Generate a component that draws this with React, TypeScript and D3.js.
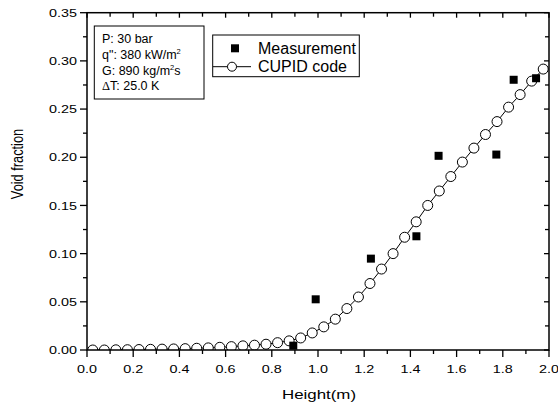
import React from "react";
import * as d3 from "d3";

const measX = [0.893, 0.99, 1.229, 1.426, 1.522, 1.772, 1.847, 1.944];
const measY = [0.0045, 0.0526, 0.0948, 0.118, 0.2015, 0.2028, 0.2804, 0.282];

const cupidX = [
  0.025, 0.075, 0.125, 0.175, 0.225, 0.275, 0.325, 0.375, 0.425, 0.475,
  0.525, 0.575, 0.625, 0.675, 0.725, 0.775, 0.825, 0.875, 0.925, 0.975,
  1.025, 1.075, 1.125, 1.175, 1.225, 1.275, 1.325, 1.375, 1.425, 1.475,
  1.525, 1.575, 1.625, 1.675, 1.725, 1.775, 1.825, 1.875, 1.925, 1.975,
];
const cupidY = [
  0.0, 0.0, 0.0002, 0.0003, 0.0005, 0.0007, 0.0009, 0.0011, 0.0014, 0.0018,
  0.0022, 0.0028, 0.0035, 0.0043, 0.005, 0.006, 0.0076, 0.0095, 0.0125, 0.0177,
  0.024, 0.032, 0.043, 0.055, 0.069, 0.084, 0.1, 0.117, 0.133, 0.15,
  0.165, 0.18, 0.195, 0.2095, 0.2236, 0.237, 0.252, 0.265, 0.279, 0.2915,
];

const xMajor = [0, 0.2, 0.4, 0.6, 0.8, 1.0, 1.2, 1.4, 1.6, 1.8, 2.0];
const xMinor = [0.1, 0.3, 0.5, 0.7, 0.9, 1.1, 1.3, 1.5, 1.7, 1.9];
const yMajor = [0, 0.05, 0.1, 0.15, 0.2, 0.25, 0.3, 0.35];
const yMinor = [0.025, 0.075, 0.125, 0.175, 0.225, 0.275, 0.325];

const xLabel = "Height(m)";
const yLabel = "Void fraction";
const legendMeas = "Measurement";
const legendCupid = "CUPID code";

const FONT = "'Liberation Sans', Arial, sans-serif";

export default function App() {
  const L = 87, R = 549, T = 12.7, B = 350;
  const x = d3.scaleLinear().domain([0, 2]).range([L, R]);
  const y = d3.scaleLinear().domain([0, 0.35]).range([B, T]);
  const pts = cupidX.map((v, i) => [v, cupidY[i]] as [number, number]);
  const line = d3.line<[number, number]>().x((d) => x(d[0])).y((d) => y(d[1]));
  const sx = 1.24;

  return (
    <svg
      width={558}
      height={405}
      style={{ position: "absolute", left: 0, top: 0, background: "#fff" }}
      fontFamily={FONT}
    >
      <defs>
        <clipPath id="plot">
          <rect x={L} y={T} width={R - L} height={B - T} />
        </clipPath>
      </defs>
      <rect x={0} y={0} width={558} height={405} fill="#fff" />

      <g clipPath="url(#plot)">
        <path d={line(pts) || ""} fill="none" stroke="#000" strokeWidth={1} />
        {pts.map((p, i) => (
          <circle key={i} cx={x(p[0])} cy={y(p[1])} r={5} fill="#fff" stroke="#000" strokeWidth={1} />
        ))}
        {measX.map((v, i) => (
          <rect key={i} x={x(v) - 4} y={y(measY[i]) - 4} width={8} height={8} fill="#000" />
        ))}
      </g>

      {/* frame */}
      <rect x={L} y={T} width={R - L} height={B - T} fill="none" stroke="#000" strokeWidth={1.5} />

      {/* bottom ticks */}
      {xMajor.map((v) => (
        <g key={"xb" + v}>
          <line x1={x(v)} x2={x(v)} y1={B} y2={B + 7} stroke="#000" strokeWidth={1.3} />
          <line x1={x(v)} x2={x(v)} y1={T} y2={T + 5} stroke="#000" strokeWidth={1.3} />
          <text
            transform={`translate(${x(v)},${373}) scale(${sx},1)`}
            textAnchor="middle"
            fontSize={11.6}
          >
            {v.toFixed(1)}
          </text>
        </g>
      ))}
      {xMinor.map((v) => (
        <g key={"xm" + v}>
          <line x1={x(v)} x2={x(v)} y1={B} y2={B + 4} stroke="#000" strokeWidth={1.3} />
          <line x1={x(v)} x2={x(v)} y1={T} y2={T + 4} stroke="#000" strokeWidth={1.3} />
        </g>
      ))}
      {yMajor.map((v) => (
        <g key={"yb" + v}>
          <line x1={L - 7} x2={L} y1={y(v)} y2={y(v)} stroke="#000" strokeWidth={1.3} />
          <line x1={R - 5} x2={R} y1={y(v)} y2={y(v)} stroke="#000" strokeWidth={1.3} />
          <text
            transform={`translate(${77},${y(v) + 4.2}) scale(${sx},1)`}
            textAnchor="end"
            fontSize={11.6}
          >
            {v.toFixed(2)}
          </text>
        </g>
      ))}
      {yMinor.map((v) => (
        <g key={"ym" + v}>
          <line x1={L - 4} x2={L} y1={y(v)} y2={y(v)} stroke="#000" strokeWidth={1.3} />
          <line x1={R - 4} x2={R} y1={y(v)} y2={y(v)} stroke="#000" strokeWidth={1.3} />
        </g>
      ))}

      {/* axis titles */}
      <text transform={`translate(${319},${399}) scale(1.3,1)`} textAnchor="middle" fontSize={13}>
        {xLabel}
      </text>
      <text
        transform={`translate(${23},${164}) scale(1.32,1) rotate(-90)`}
        textAnchor="middle"
        fontSize={12.8}
      >
        {yLabel}
      </text>

      {/* info box */}
      <rect x={94.3} y={26} width={109.7} height={73} fill="#fff" stroke="#000" strokeWidth={1} />
      <g fontSize={12.5}>
        <text x={102} y={43.3}>P: 30 bar</text>
        <text x={102} y={59}>
          q": 380 kW/m<tspan fontSize={7.5} dy={-5}>2</tspan>
        </text>
        <text x={102} y={74.5}>
          G: 890 kg/m<tspan fontSize={7.5} dy={-5}>2</tspan>
          <tspan dy={5}>s</tspan>
        </text>
        <text x={102} y={90}>
          <tspan fontFamily="'Liberation Serif', 'Times New Roman', serif">Δ</tspan>T: 25.0 K
        </text>
      </g>

      {/* legend */}
      <rect x={212.7} y={35} width={146.6} height={41.7} fill="#fff" stroke="#000" strokeWidth={1} />
      <rect x={231} y={44.3} width={8} height={8} fill="#000" />
      <text x={258} y={53.5} fontSize={16}>{legendMeas}</text>
      <line x1={213} x2={251} y1={66.7} y2={66.7} stroke="#000" strokeWidth={1} />
      <circle cx={232} cy={66.7} r={4.5} fill="#fff" stroke="#000" strokeWidth={1} />
      <text x={258} y={72} fontSize={16}>{legendCupid}</text>
    </svg>
  );
}
